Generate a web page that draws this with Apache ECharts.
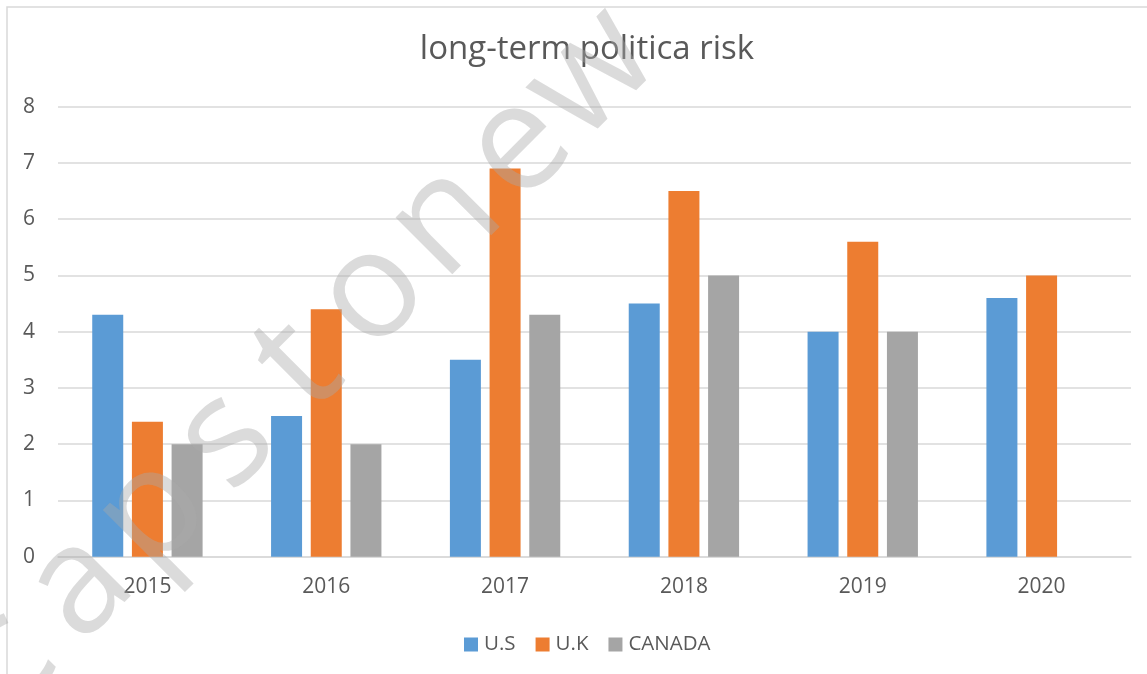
<!DOCTYPE html>
<html>
<head>
<meta charset="utf-8">
<style>
  html, body { margin: 0; padding: 0; background: #ffffff; }
  #chart { width: 1147px; height: 674px; }
</style>
<script src="https://cdn.jsdelivr.net/npm/echarts@6/dist/echarts.min.js"></script>
</head>
<body>
<div id="chart"></div>
<script>
const titleText = 'long-term politica risk';
const categories = ['2015', '2016', '2017', '2018', '2019', '2020'];
const seriesNames = ['U.S', 'U.K', 'CANADA'];
const usValues = [4.3, 2.5, 3.5, 4.5, 4.0, 4.6];
const ukValues = [2.4, 4.4, 6.9, 6.5, 5.6, 5.0];
const canadaValues = [2.0, 2.0, 4.3, 5.0, 4.0, null];
const yMin = 0, yMax = 8, yInterval = 1;
const watermarkText = 'capstonew';

const colors = ['#5B9BD5', '#ED7D31', '#A5A5A5'];
const textColor = '#595959';
const fontFamily = '"Open Sans", "Liberation Sans", sans-serif';

// watermark letters along a 45-degree diagonal
const wmGraphics = [];
const step = 103.5;
for (let i = 0; i < watermarkText.length; i++) {
  const cx = 226 + (i - 3) * step * Math.SQRT1_2;
  const cy = 440 - (i - 3) * step * Math.SQRT1_2;
  wmGraphics.push({
    type: 'text',
    x: cx, y: cy,
    rotation: Math.PI / 4,
    z: 100,
    silent: true,
    style: {
      text: watermarkText[i],
      fontSize: 150,
      fontWeight: 'normal',
      fontFamily: '"Open Sans", sans-serif',
      fill: 'rgba(170,170,170,0.42)',
      align: 'center',
      verticalAlign: 'middle',
      textAlign: 'center',
      textVerticalAlign: 'middle'
    }
  });
}

const chart = echarts.init(document.getElementById('chart'), null, { renderer: 'canvas' });
const seriesData = [usValues, ukValues, canadaValues];

chart.setOption({
  animation: false,
  backgroundColor: '#ffffff',
  color: colors,
  title: {
    text: titleText,
    left: 582,
    textAlign: 'center',
    top: 28,
    textStyle: { fontFamily: fontFamily, fontSize: 33, fontWeight: 'normal', color: textColor }
  },
  legend: {
    data: seriesNames,
    left: 459,
    top: 629,
    icon: 'rect',
    itemWidth: 14,
    itemHeight: 14,
    itemGap: 20,
    textStyle: { fontFamily: fontFamily, fontSize: 20.5, color: textColor, padding: [0, 0, 0, 1] }
  },
  grid: { left: 58, right: 16, top: 106.7, bottom: 117.3, containLabel: false },
  xAxis: {
    type: 'category',
    data: categories,
    axisLine: { show: true, lineStyle: { color: '#D9D9D9', width: 1.5 } },
    axisTick: { show: false },
    axisLabel: { fontFamily: fontFamily, fontSize: 21, color: textColor, margin: 20 },
    splitLine: { show: false }
  },
  yAxis: {
    type: 'value',
    min: yMin, max: yMax, interval: yInterval,
    axisLine: { show: false },
    axisTick: { show: false },
    axisLabel: { fontFamily: fontFamily, fontSize: 21, color: textColor, margin: 23 },
    splitLine: { lineStyle: { color: '#D9D9D9', width: 1.5 } }
  },
  series: seriesNames.map((name, i) => ({
    name: name,
    type: 'bar',
    data: seriesData[i],
    barWidth: 31,
    barGap: '28%',
    itemStyle: { color: colors[i] }
  })),
  graphic: [
    {
      type: 'rect',
      shape: { x: 7, y: 7, width: 1300, height: 900 },
      silent: true,
      z: -1,
      style: { fill: 'none', stroke: '#D9D9D9', lineWidth: 1.5 }
    }
  ].concat(wmGraphics)
});
</script>
</body>
</html>
